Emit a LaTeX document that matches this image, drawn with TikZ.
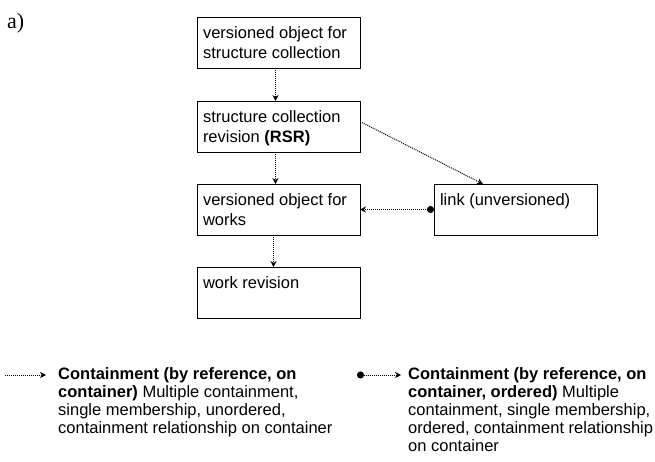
\documentclass[tikz,border=0pt]{standalone}
\usepackage{fontspec}
\setmainfont{Liberation Sans}
\newfontfamily\seriffont{Liberation Serif}
\usetikzlibrary{arrows.meta,calc}
\newcommand\boxtxt[1]{\parbox[t][51pt][t]{151pt}{\raggedright\fontsize{16.5pt}{20pt}\selectfont\rule{0pt}{21pt}#1}}
\newcommand\legtxt[1]{\parbox[t]{300pt}{\raggedright\fontsize{16.5pt}{18pt}\selectfont\rule{0pt}{17pt}#1}}
\tikzset{
  box/.style={draw, line width=1pt, inner xsep=6pt, inner ysep=0pt, anchor=north west, outer sep=0pt},
  conn/.style={line width=1pt, dash pattern=on 1pt off 1pt, -{Stealth[length=6pt,width=6pt,inset=2pt]}},
  dotconn/.style={conn, {Circle[length=7pt,sep=0pt]}-{Stealth[length=6pt,width=6pt,inset=2pt]}},
  legtext/.style={anchor=north west, inner sep=0pt}
}
\begin{document}
\begin{tikzpicture}[x=1pt,y=-1pt]
\useasboundingbox (0,0) rectangle (655,461);
\node[anchor=base west, inner sep=0pt] (lab) at (7,28) {\seriffont\fontsize{22pt}{26pt}\selectfont a)};
\node[box] (b1) at (197,17) {\boxtxt{versioned object for\\structure collection}};
\node[box] (b2) at (197,101) {\boxtxt{structure collection\\revision \textbf{(RSR)}}};
\node[box] (b3) at (197,184) {\boxtxt{versioned object for\\works}};
\node[box] (b4) at (197,267) {\boxtxt{work revision}};
\node[box] (lk) at (434,184) {\boxtxt{link (unversioned)}};
\draw[conn] ($(b1.south)+(-3,0)$) -- ($(b2.north)+(-3,0)$);
\draw[conn] ($(b2.south)+(-3,0)$) -- ($(b3.north)+(-3,0)$);
\draw[conn] ($(b3.south)+(-5,0)$) -- ($(b4.north)+(-5,0)$);
\draw[conn] ($(b2.east)+(2,-4)$) -- ($(lk.north west)+(49,0)$);
\draw[dotconn] (lk.west) -- (b3.east);
% legend
\coordinate (l1a) at (5,375);
\coordinate (l1b) at (46,375);
\draw[conn] (l1a) -- (l1b);
\node[legtext] (lt1) at (58,362) {\legtxt{\textbf{Containment (by reference, on}\\\textbf{container)} Multiple containment,\\single membership, unordered,\\containment relationship on container}};
\coordinate (l2a) at (357,375);
\coordinate (l2b) at (401,375);
\draw[dotconn] (l2a) -- (l2b);
\node[legtext] (lt2) at (408,362) {\legtxt{\textbf{Containment (by reference, on}\\\textbf{container, ordered)} Multiple\\containment, single membership,\\ordered, containment relationship\\on container}};
\end{tikzpicture}
\end{document}
